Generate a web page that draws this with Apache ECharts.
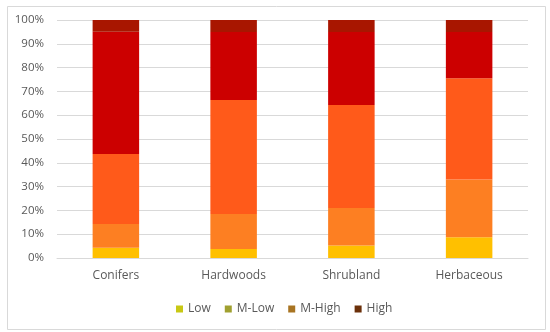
<!DOCTYPE html>
<html>
<head>
<meta charset="utf-8">
<script src="https://cdn.jsdelivr.net/npm/echarts@6/dist/echarts.min.js"></script>
<style>html,body{margin:0;padding:0;background:#fff;}#c{width:550px;height:332px;}</style>
</head>
<body>
<div id="c"></div>
<script>
const categories = ['Conifers', 'Hardwoods', 'Shrubland', 'Herbaceous'];
const low      = [4.3, 3.8, 5.3, 8.7];
const mLow     = [10.0, 14.7, 15.7, 24.3];
const mHigh    = [29.4, 47.9, 43.3, 42.5];
const high     = [51.4, 28.6, 30.7, 19.5];
const extreme  = [4.9, 5.0, 5.0, 5.0];
const yTicks   = [0, 10, 20, 30, 40, 50, 60, 70, 80, 90, 100];

const font = '"Open Sans", "Noto Sans", sans-serif';
const chart = echarts.init(document.getElementById('c'), null, {renderer: 'canvas'});

const seriesDefs = [
  {name: 'Low', data: low, color: '#FFC000'},
  {name: 'M-Low', data: mLow, color: '#FD7F22'},
  {name: 'M-High', data: mHigh, color: '#FF5A1A'},
  {name: 'High', data: high, color: '#CC0000'},
  {name: 'Extreme', data: extreme, color: '#A81600'}
];

chart.setOption({
  animation: false,
  backgroundColor: '#fff',
  graphic: [{
    type: 'rect', left: 5, top: 4,
    shape: {width: 538, height: 323},
    style: {fill: 'none', stroke: '#d9d9d9', lineWidth: 1}
  }],
  grid: {left: 57, right: 22, top: 20, bottom: 74, containLabel: false},
  legend: {
    left: 171, top: 298,
    itemWidth: 7, itemHeight: 7, itemGap: 14,
    icon: 'rect',
    textStyle: {fontFamily: font, fontSize: 12, color: '#595959'},
    data: [
      {name: 'Low', itemStyle: {color: '#C8C814'}},
      {name: 'M-Low', itemStyle: {color: '#A0A030'}},
      {name: 'M-High', itemStyle: {color: '#A87422'}},
      {name: 'High', itemStyle: {color: '#6B300A'}}
    ],
    selectedMode: false
  },
  xAxis: {
    type: 'category',
    data: categories,
    axisLine: {show: true, lineStyle: {color: '#d9d9d9'}},
    axisTick: {show: false},
    axisLabel: {fontFamily: font, fontSize: 12, color: '#595959', margin: 12}
  },
  yAxis: {
    type: 'value',
    min: yTicks[0], max: yTicks[yTicks.length - 1], interval: 10,
    axisLine: {show: false},
    axisTick: {show: false},
    splitLine: {lineStyle: {color: '#d9d9d9'}},
    axisLabel: {fontFamily: font, fontSize: 11.5, color: '#595959', margin: 13, formatter: '{value}%'}
  },
  series: seriesDefs.map(s => ({
    name: s.name,
    type: 'bar',
    stack: 'total',
    barWidth: '39.5%',
    data: s.data,
    itemStyle: {color: s.color},
    emphasis: {disabled: true}
  }))
});
</script>
</body>
</html>
